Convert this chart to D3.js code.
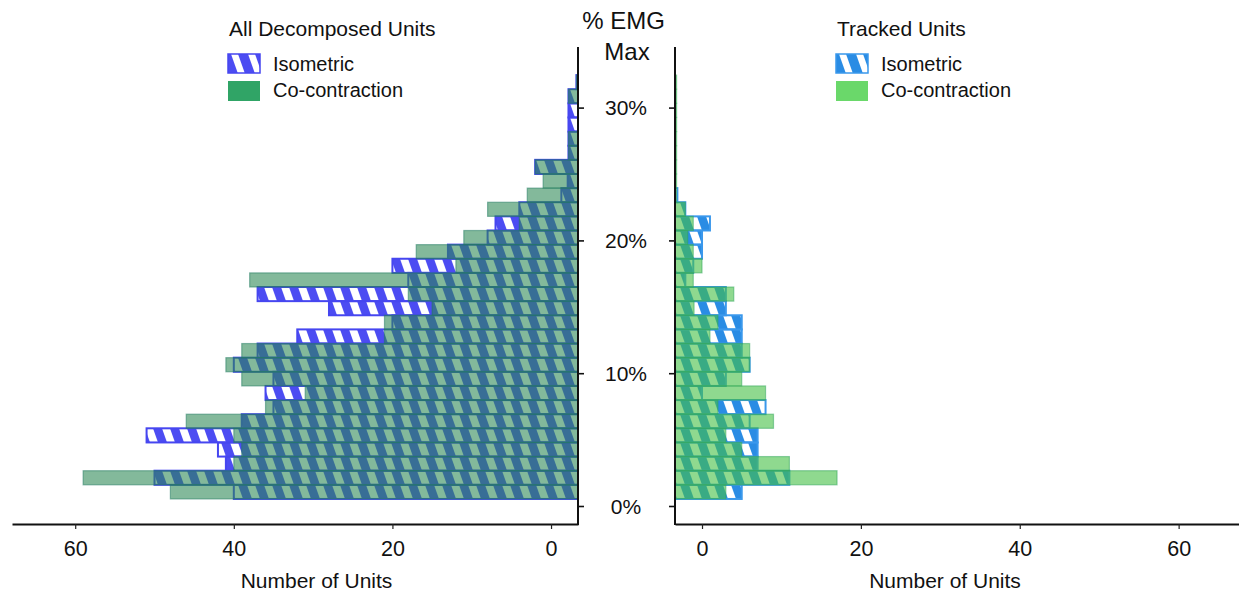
<!DOCTYPE html>
<html>
<head>
<meta charset="utf-8">
<script src="https://cdn.jsdelivr.net/npm/d3@7"></script>
<style>
  body { margin: 0; background: #fff; }
  svg { display: block; }
  text { font-family: "Liberation Sans", Arial, sans-serif; fill: #111; }
</style>
</head>
<body>
<svg id="chart" width="1239" height="592"></svg>
<script>
// Recruitment-threshold histogram bins (% EMG max), lowest bin first
const binCount = 30;
const binStart = 0.53;
const binWidth = 1.064;
const bins = d3.range(binCount).map(i => binStart + i * binWidth);

// Number of units per bin, lowest bin first (null = no bar)
const allIsometric = [40, 50, 41, 42, 51, 39, 35, 36, 35, 40,
                      37, 32, 20, 28, 37, 18, 20, 13, 8, 7,
                      4, -1.3, -2.1, 2, -2.2, -2.2, -2.2, -2.2, -2.2, -3.2];
const allCocontraction = [48, 59, 40, 39, 40, 46, 36, 31, 39, 41,
                          39, 21, 21, 15, 18, 38, 12, 17, 11, 4,
                          8, 3, 1, 2, -2.2, -2.2, null, null, -2.2, -3.2];
const trackedIsometric = [5, 11, 7, 7, 7, 6, 8, 0, 3, 6,
                          5, 5, 5, 3, 3, -2.1, -1.1, 0, 0, 1,
                          -2.1, -3.1, null, null, null, null, null, null, null, null];
const trackedCocontraction = [3, 17, 11, 5, 3, 9, 2, 8, 5, 6,
                              6, 1, 2, -1, 4, -1.1, 0, -1.1, -1.8, -1.1,
                              -2.1, -3.2, -3.2, -3.2, -3.2, -3.2, -3.2, -3.2, -3.2, -3.2];

const countTicks = [0, 20, 40, 60];
const emgTicks = [0, 10, 20, 30];
const emgTickLabels = ["0%", "10%", "20%", "30%"];
const seriesNames = ["Isometric", "Co-contraction"];
const panelTitles = ["All Decomposed Units", "Tracked Units"];

const svg = d3.select("#chart");
const defs = svg.append("defs");

// layout
const axisBaseY = 524;
const axisTopY = 47;
const leftAxisX = 578, leftOuterX = 12;
const rightAxisX = 675, rightOuterX = 1239;
const countMin = -3.4;

const y = d3.scaleLinear().domain([0, 30]).range([506, 107.6]);
const xLeft = d3.scaleLinear().domain([countMin, 67.97]).range([leftAxisX, leftOuterX]);
const xRight = d3.scaleLinear().domain([countMin, 67.6]).range([rightAxisX, rightOuterX]);

const rowTop = y(binStart + binCount * binWidth);
const rowH = y(binStart) - y(binStart + binWidth);

// diagonal stripe fill: coloured stripes on a clear ground
function stripes(id, color, y0, h, opts = {}) {
  const period = 17, w = opts.w || 9, s = 5 * h / rowH;
  const p = defs.append("pattern")
    .attr("id", id)
    .attr("patternUnits", "userSpaceOnUse")
    .attr("x", opts.x0 || 0).attr("y", y0)
    .attr("width", period).attr("height", h);
  if (opts.bg) p.append("rect").attr("width", period).attr("height", h).attr("fill", opts.bg);
  p.append("path")
    .attr("d", `M0,0 L${w},0 L${w + s},${h} L${s},${h} Z`)
    .attr("fill", color);
  return `url(#${id})`;
}

const leftStyle = {
  iso: "#4c4cf2", isoStroke: "#4646f0",
  co: "#2a8752", coOpacity: 0.58, coStroke: "#1f7a60",
  legendCo: "#30a466"
};
const rightStyle = {
  iso: "#2a8ce4", isoStroke: "#3a98ec",
  co: "#44c044", coOpacity: 0.6, coStroke: "#2fa65a",
  legendCo: "#6ad86a"
};

function drawPanel(x, isoVals, coVals, st, key) {
  const g = svg.append("g");
  const base = x.domain()[0];
  const fill = stripes(`iso-${key}`, st.iso, rowTop, rowH);
  const rows = bins.map((b, i) => ({ b, iso: isoVals[i], co: coVals[i] }));

  g.append("g").selectAll("rect")
    .data(rows.filter(d => d.iso !== null))
    .join("rect")
    .attr("x", d => Math.min(x(base), x(d.iso)))
    .attr("width", d => Math.abs(x(d.iso) - x(base)))
    .attr("y", d => y(d.b + binWidth))
    .attr("height", rowH)
    .attr("fill", fill)
    .attr("stroke", st.isoStroke)
    .attr("stroke-width", 2);

  g.append("g").selectAll("rect")
    .data(rows.filter(d => d.co !== null))
    .join("rect")
    .attr("x", d => Math.min(x(base), x(d.co)))
    .attr("width", d => Math.abs(x(d.co) - x(base)))
    .attr("y", d => y(d.b + binWidth))
    .attr("height", rowH)
    .attr("fill", st.co)
    .attr("fill-opacity", st.coOpacity)
    .attr("stroke", st.coStroke)
    .attr("stroke-opacity", 0.5)
    .attr("stroke-width", 1.2);
}

drawPanel(xLeft, allIsometric, allCocontraction, leftStyle, "all");
drawPanel(xRight, trackedIsometric, trackedCocontraction, rightStyle, "tracked");

// count axes along the bottom
function countAxis(x) {
  const g = svg.append("g")
    .attr("transform", `translate(0,${axisBaseY})`)
    .call(d3.axisBottom(x).tickValues(countTicks).tickSize(5).tickSizeOuter(0).tickPadding(12));
  g.select(".domain").attr("stroke", "#111").attr("stroke-width", 2);
  g.selectAll(".tick line").attr("stroke", "#222").attr("stroke-width", 1.2);
  g.selectAll(".tick text")
    .style("font-size", "21.5px")
    .style("font-family", "'Liberation Sans', Arial, sans-serif")
    .attr("fill", "#111");
}
countAxis(xLeft);
countAxis(xRight);

// shared % EMG max axis between the panels
function emgAxis(axisX, gen) {
  const g = svg.append("g")
    .attr("transform", `translate(${axisX},0)`)
    .call(gen(y).tickValues(emgTicks).tickSize(6).tickFormat(""));
  g.select(".domain").remove();
  g.selectAll(".tick line").attr("stroke", "#111").attr("stroke-width", 1.6);
  g.append("line")
    .attr("y1", axisTopY).attr("y2", axisBaseY + 1)
    .attr("stroke", "#111").attr("stroke-width", 2);
}
emgAxis(leftAxisX, d3.axisRight);
emgAxis(rightAxisX, d3.axisLeft);

const midX = (leftAxisX + rightAxisX) / 2 - 0.5;
svg.append("g").selectAll("text")
  .data(emgTicks)
  .join("text")
  .attr("x", midX)
  .attr("y", d => y(d))
  .attr("dy", "0.36em")
  .attr("text-anchor", "middle")
  .style("font-size", "21px")
  .text((d, i) => emgTickLabels[i]);

svg.append("text").attr("x", 623.5).attr("y", 29).attr("text-anchor", "middle")
  .style("font-size", "24px").text("% EMG");
svg.append("text").attr("x", 627).attr("y", 60).attr("text-anchor", "middle")
  .style("font-size", "24px").text("Max");

// axis titles
[316.5, 945].forEach(cx => {
  svg.append("text").attr("x", cx).attr("y", 588).attr("text-anchor", "middle")
    .style("font-size", "21px").text("Number of Units");
});

// legends
function legend(x0, title, st, key) {
  const g = svg.append("g");
  g.append("text").attr("x", x0 + 1).attr("y", 36).style("font-size", "21px").text(title);
  const isoY = 54, isoH = 19;
  const fill = stripes(`leg-${key}`, "#fff", isoY, isoH, { bg: st.iso, w: 7, x0: x0 + 3 });
  g.append("rect").attr("x", x0).attr("y", isoY).attr("width", 32).attr("height", isoH)
    .attr("fill", fill).attr("stroke", st.isoStroke).attr("stroke-width", 1.5);
  g.append("rect").attr("x", x0).attr("y", 81).attr("width", 32).attr("height", 20)
    .attr("fill", st.legendCo);
  g.append("text").attr("x", x0 + 45).attr("y", 70.5).style("font-size", "20px").text(seriesNames[0]);
  g.append("text").attr("x", x0 + 45).attr("y", 97).style("font-size", "20px").text(seriesNames[1]);
}
legend(228, panelTitles[0], leftStyle, "all");
legend(836, panelTitles[1], rightStyle, "tracked");
</script>
</body>
</html>
